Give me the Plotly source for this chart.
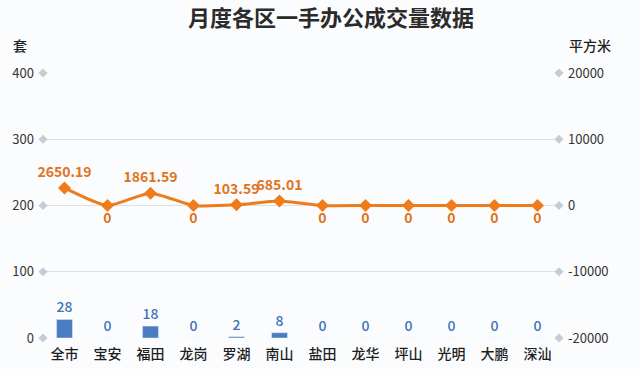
import plotly.graph_objects as go

districts = ["全市", "宝安", "福田", "龙岗", "罗湖", "南山", "盐田", "龙华", "坪山", "光明", "大鹏", "深汕"]
units = [28, 0, 18, 0, 2, 8, 0, 0, 0, 0, 0, 0]
area = [2650.19, 0, 1861.59, 0, 103.59, 685.01, 0, 0, 0, 0, 0, 0]
left_ticks = [0, 100, 200, 300, 400]
right_ticks = [-20000, -10000, 0, 10000, 20000]
right_labels = ["-20000", "-10000", "0", "10000", "20000"]

idx = list(range(len(districts)))
font_family = "Noto Sans CJK SC, Noto Sans, sans-serif"

def fmt_area(v):
    return "0" if v == 0 else f"{v:.2f}"

area_pos = ["top center" if v > 0 else "bottom center" for v in area]

fig = go.Figure()

fig.add_trace(go.Bar(
    x=idx, y=units, width=0.37,
    marker=dict(color="#4a7cc2"),
    text=[str(u) for u in units], textposition="outside",
    textfont=dict(color="#3d72b8", size=14, family=font_family, weight=500),
    cliponaxis=False, showlegend=False, hoverinfo="skip",
))

fig.add_trace(go.Scatter(
    x=[-0.5] * len(left_ticks) + [11.5] * len(left_ticks),
    y=left_ticks + left_ticks,
    mode="markers", marker=dict(symbol="diamond", size=7, color="#c6ccd2"),
    showlegend=False, hoverinfo="skip", cliponaxis=False,
))

fig.add_trace(go.Scatter(
    x=idx, y=area, yaxis="y2",
    mode="lines+markers+text",
    line=dict(color="#ef7b1a", width=3, shape="spline", smoothing=0.6),
    marker=dict(symbol="diamond", size=10, color="#ef7b1a"),
    text=[fmt_area(v) for v in area], textposition=area_pos,
    textfont=dict(color="#e0741c", size=14, family=font_family, weight=600),
    cliponaxis=False, showlegend=False, hoverinfo="skip",
))

W, H = 640, 369
fig.update_layout(
    width=W, height=H,
    margin=dict(l=43, r=81, t=73, b=31, autoexpand=False),
    paper_bgcolor="#fbfcfe", plot_bgcolor="#fbfcfe",
    font=dict(family=font_family, color="#333333", size=13),
    title=dict(text="<b>月度各区一手办公成交量数据</b>", x=331 / W, xanchor="center",
               xref="container", y=1 - 18 / H, yanchor="middle",
               font=dict(size=22, color="#2b2b2b", family=font_family)),
    xaxis=dict(
        range=[-0.5, 11.5], tickvals=idx, ticktext=districts, automargin=False,
        showgrid=False, zeroline=False, showline=False, ticks="",
        tickfont=dict(size=14, color="#1e1e1e", weight=500), ticklabelstandoff=6,
    ),
    yaxis=dict(
        range=[0, 400], tickvals=left_ticks, showgrid=True, automargin=False,
        gridcolor="#dde1e6", gridwidth=1, zeroline=False, showline=False,
        tickfont=dict(size=13, color="#333333"), ticks="", ticklabelstandoff=8,
    ),
    yaxis2=dict(
        range=[-20000, 20000], tickvals=right_ticks, ticktext=right_labels,
        overlaying="y", side="right", automargin=False,
        showgrid=False, zeroline=False, showline=False,
        tickfont=dict(size=13, color="#333333"), ticks="", ticklabelstandoff=8,
    ),
    annotations=[
        dict(text="套", xref="paper", yref="paper", x=(20 - 43) / 516, y=(338 - 45) / 265,
             xanchor="center", yanchor="middle", showarrow=False,
             font=dict(size=14, color="#1e1e1e", weight=500)),
        dict(text="平方米", xref="paper", yref="paper", x=(590 - 43) / 516, y=(338 - 45) / 265,
             xanchor="center", yanchor="middle", showarrow=False,
             font=dict(size=14, color="#1e1e1e", weight=500)),
    ],
)

fig.write_html("out.html", config={"displayModeBar": False},
               post_script="document.body.style.margin='0';")
